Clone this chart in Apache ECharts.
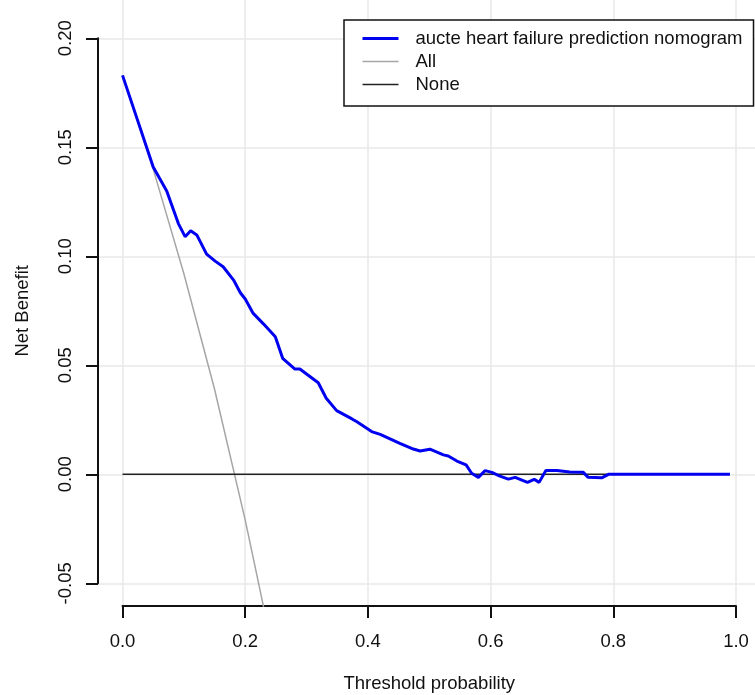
<!DOCTYPE html>
<html>
<head>
<meta charset="utf-8">
<script src="https://cdn.jsdelivr.net/npm/echarts@6/dist/echarts.min.js"></script>
<style>
html, body { margin: 0; padding: 0; background: #fff; }
#chart { width: 755px; height: 695px; }
</style>
</head>
<body>
<div id="chart"></div>
<script>
// decision curve data
const modelName = 'aucte heart failure prediction nomogram'
const modelX = [0, 0.025, 0.05, 0.072, 0.091, 0.102, 0.111, 0.121, 0.137, 0.151, 0.164, 0.181, 0.192, 0.200,
  0.213, 0.230, 0.249, 0.261, 0.281, 0.289, 0.319, 0.332, 0.349, 0.374, 0.382, 0.406, 0.420, 0.452, 0.474,
  0.485, 0.501, 0.523, 0.531, 0.545, 0.560, 0.569, 0.580, 0.591, 0.602, 0.615, 0.629, 0.640, 0.660, 0.671,
  0.679, 0.690, 0.708, 0.729, 0.751, 0.759, 0.781, 0.792, 0.99]
const modelNB = [0.183, 0.162, 0.141, 0.130, 0.115, 0.109, 0.1117, 0.1098, 0.101, 0.0978, 0.0952, 0.0891, 0.0833, 0.0804,
  0.0738, 0.0689, 0.0631, 0.0532, 0.0483, 0.0483, 0.0420, 0.0349, 0.0292, 0.0254, 0.0241, 0.0196, 0.0183, 0.0142, 0.0116,
  0.0107, 0.0115, 0.0089, 0.0084, 0.0061, 0.0043, 0.0005, -0.0014, 0.0017, 0.0009, -0.0008, -0.0022, -0.0014, -0.0037, -0.0023,
  -0.0037, 0.0017, 0.0017, 0.0011, 0.0009, -0.0014, -0.0016, 0, 0]
const allX = [0, 0.05, 0.10, 0.15, 0.20, 0.23]
const allNB = [0.183, 0.140, 0.092, 0.039, -0.021, -0.061]
const noneX = [0, 0.99]
const noneNB = [0, 0]
const xTicks = [0, 0.2, 0.4, 0.6, 0.8, 1.0]
const yTicks = [-0.05, 0, 0.05, 0.10, 0.15, 0.20]

const font = "'Liberation Sans', Arial, sans-serif"
const fs = 18.5

const toPairs = (xs, ys) => xs.map((x, i) => [x, ys[i]])

const chart = echarts.init(document.getElementById('chart'))
chart.setOption({
  animation: false,
  backgroundColor: '#fff',
  textStyle: { fontFamily: font },
  legend: {
    orient: 'vertical',
    left: 344,
    top: 20,
    padding: [9, 11, 12, 17],
    itemWidth: 36,
    itemHeight: 14,
    itemGap: 4,
    selectedMode: false,
    backgroundColor: '#fff',
    borderColor: '#111',
    borderWidth: 1.5,
    borderRadius: 0,
    itemStyle: { opacity: 0 },
    lineStyle: { width: 'inherit' },
    textStyle: { fontSize: fs, color: '#111', fontFamily: font, padding: [0, 0, 0, 12], lineHeight: 16 },
    data: [modelName, 'All', 'None']
  },
  grid: [
    // axes frame (0..1, -0.05..0.20)
    { left: 122.5, right: 19, top: 38.3, bottom: 111.7, outerBoundsMode: 'none' },
    // full plotting region for lines and grid
    { left: 98, right: 0, top: 0, bottom: 89, outerBoundsMode: 'none' }
  ],
  xAxis: [
    {
      type: 'value', gridIndex: 0, min: 0, max: 1, interval: 0.2,
      position: 'bottom', offset: 22.7,
      axisLine: { onZero: false, lineStyle: { color: '#111', width: 2 } },
      axisTick: { length: 12, lineStyle: { color: '#111', width: 2 } },
      splitLine: { show: false },
      axisLabel: { margin: 26, fontSize: fs, color: '#111', fontFamily: font, formatter: v => v.toFixed(1) },
      name: 'Threshold probability', nameLocation: 'middle', nameGap: 68,
      nameTextStyle: { fontSize: fs, color: '#111', fontFamily: font }
    },
    {
      type: 'value', gridIndex: 1, min: -0.04, max: 1.0309,
      axisLine: { show: false },
      axisTick: { show: false, customValues: xTicks },
      axisLabel: { show: false, customValues: xTicks },
      splitLine: { show: true, lineStyle: { color: '#e8e8e8', width: 1.5 } }
    }
  ],
  yAxis: [
    {
      type: 'value', gridIndex: 0, min: -0.05, max: 0.20, interval: 0.05,
      position: 'left', offset: 24.5,
      axisLine: { show: true, onZero: false, lineStyle: { color: '#111', width: 2 } },
      axisTick: { show: true, length: 12, lineStyle: { color: '#111', width: 2 } },
      splitLine: { show: false },
      axisLabel: { rotate: 90, margin: 23, fontSize: fs, color: '#111', fontFamily: font, formatter: v => v.toFixed(2) },
      name: 'Net Benefit', nameLocation: 'middle', nameRotate: 90, nameGap: 66,
      nameTextStyle: { fontSize: fs, color: '#111', fontFamily: font }
    },
    {
      type: 'value', gridIndex: 1, min: -0.06041, max: 0.21757,
      axisLine: { show: false },
      axisTick: { show: false, customValues: yTicks },
      axisLabel: { show: false, customValues: yTicks },
      splitLine: { show: true, lineStyle: { color: '#e8e8e8', width: 1.5 } }
    }
  ],
  series: [
    {
      name: modelName, type: 'line', xAxisIndex: 1, yAxisIndex: 1,
      data: toPairs(modelX, modelNB), symbol: 'none', z: 4,
      lineStyle: { color: '#0000f0', width: 3 }, itemStyle: { color: '#0000f0' }
    },
    {
      name: 'All', type: 'line', xAxisIndex: 1, yAxisIndex: 1,
      data: toPairs(allX, allNB), symbol: 'none', z: 2,
      lineStyle: { color: '#a6a6a6', width: 1.5 }, itemStyle: { color: '#a6a6a6' }
    },
    {
      name: 'None', type: 'line', xAxisIndex: 1, yAxisIndex: 1,
      data: toPairs(noneX, noneNB), symbol: 'none', z: 3,
      lineStyle: { color: '#222', width: 1.5 }, itemStyle: { color: '#222' }
    }
  ]
})
</script>
</body>
</html>
